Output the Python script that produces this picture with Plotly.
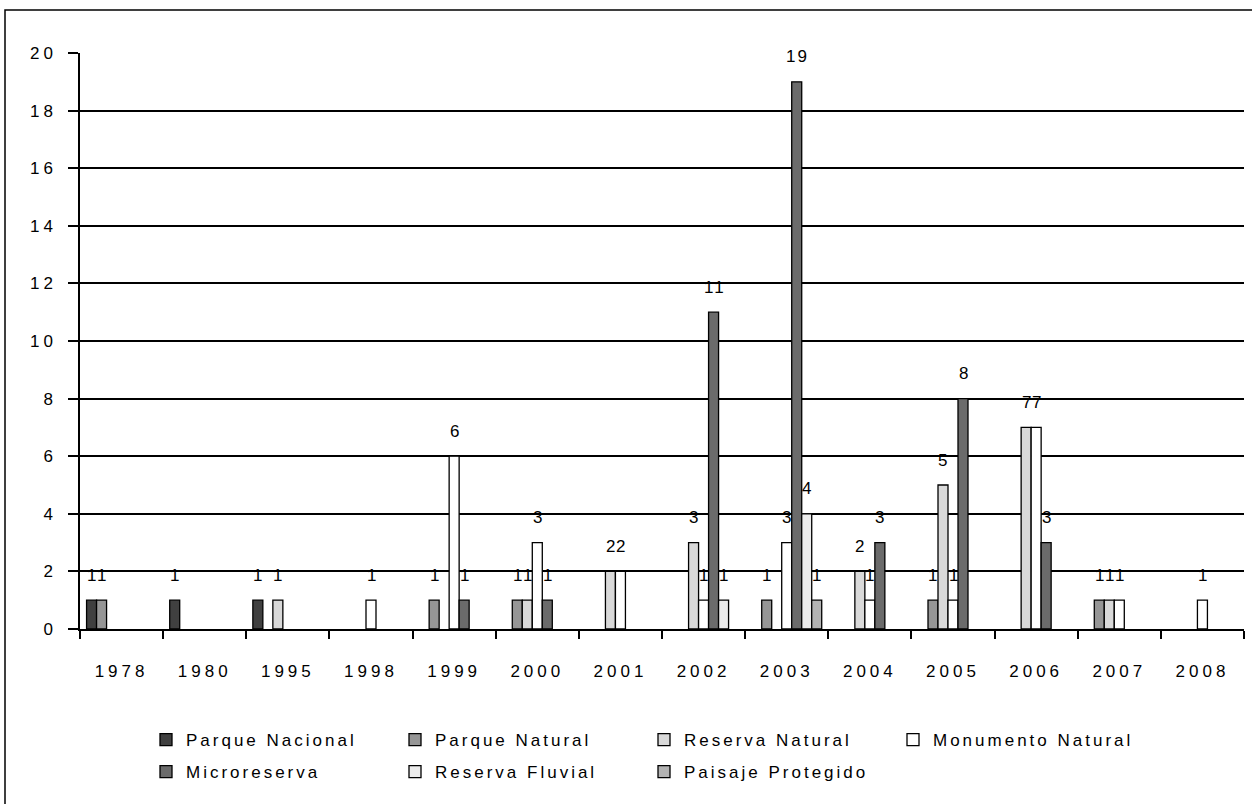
import plotly.graph_objects as go

# Protected areas declared per year, by category
years = ["1978", "1980", "1995", "1998", "1999", "2000", "2001",
         "2002", "2003", "2004", "2005", "2006", "2007", "2008"]

parque_nacional = [1, 1, 1, None, None, None, None, None, None, None, None, None, None, None]
parque_natural = [1, None, None, None, 1, 1, None, None, 1, None, 1, None, 1, None]
reserva_natural = [None, None, 1, None, None, 1, 2, 3, None, 2, 5, 7, 1, None]
monumento_natural = [None, None, None, 1, 6, 3, 2, 1, 3, 1, 1, 7, 1, 1]
microreserva = [None, None, None, None, 1, 1, None, 11, 19, 3, 8, 3, None, None]
reserva_fluvial = [None, None, None, None, None, None, None, 1, 4, None, None, None, None, None]
paisaje_protegido = [None, None, None, None, None, None, None, None, 1, None, None, None, None, None]

series_names = ["Parque Nacional", "Parque Natural", "Reserva Natural", "Monumento Natural",
                "Microreserva", "Reserva Fluvial", "Paisaje Protegido"]
series_values = [parque_nacional, parque_natural, reserva_natural, monumento_natural,
                 microreserva, reserva_fluvial, paisaje_protegido]
series_colors = ["#404040", "#969696", "#d9d9d9", "#ffffff", "#6b6b6b", "#ececec", "#b3b3b3"]

FONT = "Liberation Sans, Arial, sans-serif"
FS = 17
W, H = 1252, 804
L, R, T, B = 80, 8, 53, 175
plot_w = W - L - R
plot_h = H - T - B
n_series = len(series_names)
bargap = 0.158
bar_px = plot_w / len(years) * (1 - bargap) / n_series

fig = go.Figure()
annotations = []
for i, (name, vals, col) in enumerate(zip(series_names, series_values, series_colors)):
    fig.add_trace(go.Bar(
        name=name, x=years, y=vals,
        marker=dict(color=col, line=dict(color="#000000", width=1.3)),
        legend="legend" if i < 4 else "legend2",
    ))
    for j, v in enumerate(vals):
        if v is None:
            continue
        # category axes position annotations by category index
        annotations.append(dict(
            x=j, y=v, xref="x", yref="y", text=str(v), showarrow=False,
            xshift=(i - (n_series - 1) / 2) * bar_px + 1, yshift=25,
            yanchor="middle", xanchor="center",
            font=dict(family=FONT, size=FS, color="#000000"),
        ))

def px_to_paper_y(py):
    return (H - B - py) / plot_h

def px_to_paper_x(px):
    return (px - L) / plot_w

shapes = [dict(
    type="rect", xref="paper", yref="paper",
    x0=px_to_paper_x(5), x1=px_to_paper_x(W + 40),
    y0=px_to_paper_y(H + 40), y1=px_to_paper_y(10),
    line=dict(color="#000000", width=1.5), fillcolor="rgba(0,0,0,0)", layer="below",
)]

legend_common = dict(
    orientation="h", xanchor="left", yanchor="middle",
    font=dict(family=FONT, size=FS, color="#000000"),
    entrywidth=204, entrywidthmode="pixels",
    bgcolor="rgba(0,0,0,0)", itemclick=False, itemdoubleclick=False,
)

fig.update_layout(
    width=W, height=H,
    margin=dict(l=L, r=R, t=T, b=B, autoexpand=False),
    paper_bgcolor="#ffffff", plot_bgcolor="#ffffff",
    barmode="group", bargap=bargap, bargroupgap=0,
    font=dict(family=FONT, size=FS, color="#000000"),
    showlegend=True,
    legend=dict(x=px_to_paper_x(146), y=px_to_paper_y(740), **legend_common),
    legend2=dict(x=px_to_paper_x(146), y=px_to_paper_y(772), **legend_common),
    annotations=annotations,
    shapes=shapes,
    xaxis=dict(
        type="category", categoryorder="array", categoryarray=years,
        range=[-0.5, len(years) - 0.5],
        showline=True, linecolor="#000000", linewidth=1.5,
        ticks="outside", tickson="boundaries", ticklen=8, tickcolor="#000000", tickwidth=1.5,
        showgrid=False, ticklabelstandoff=26, tickangle=0,
        tickfont=dict(family=FONT, size=FS, color="#000000"),
    ),
    yaxis=dict(
        range=[0, 20], dtick=2, tick0=0,
        showline=True, linecolor="#000000", linewidth=1.5,
        ticks="outside", ticklen=10, tickcolor="#000000", tickwidth=1.5,
        showgrid=True, gridcolor="#000000", gridwidth=1.5,
        zeroline=False, ticklabelstandoff=8,
        tickfont=dict(family=FONT, size=FS, color="#000000"),
    ),
)

# Widen the letter spacing of axis, legend and value texts through a stylesheet
spacing_js = """
var css = document.createElement('style');
css.textContent =
  '.xtick text, .ytick text { letter-spacing: 4px; }' +
  'g.legend text, g.legend2 text, text.legendtext { letter-spacing: 3px; }' +
  'g.annotation text, text.annotation-text { letter-spacing: 2px; }';
document.head.appendChild(css);
"""

fig.write_html("out.html", post_script=spacing_js)
